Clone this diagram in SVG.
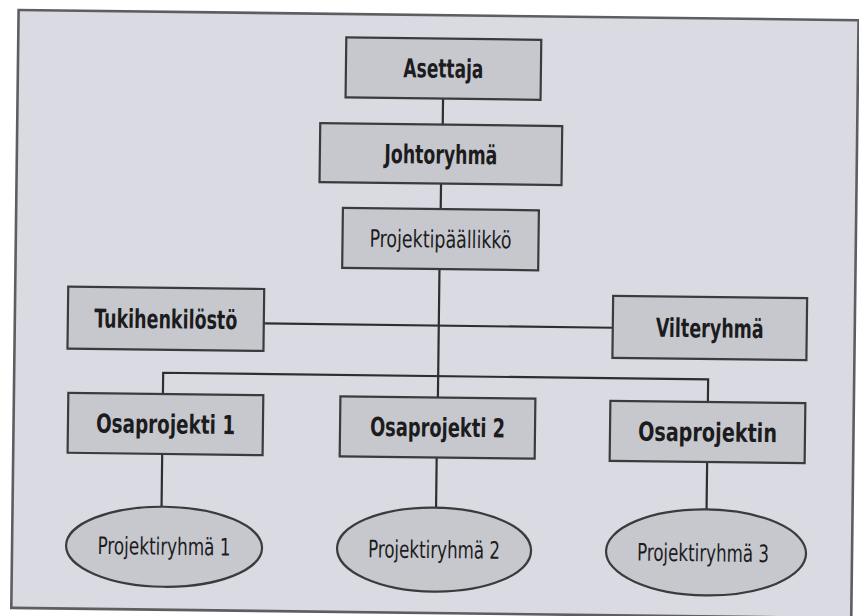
<svg xmlns="http://www.w3.org/2000/svg" width="859" height="616" viewBox="0 0 859 616">
  <style>
    .frame { fill: #dadbe2; stroke: #5e5e62; stroke-width: 2.6; }
    .box { fill: #c7c8cd; stroke: #3b3b3e; stroke-width: 2.2; }
    .oval { fill: #c7c8cd; stroke: #3b3b3e; stroke-width: 2.2; }
    .link { fill: none; stroke: #2e2e30; stroke-width: 2.2; }
    .lbl { font-family: "Liberation Sans Narrow", "DejaVu Sans Condensed", "Liberation Sans", sans-serif; font-stretch: condensed; fill: #1c1c1e; text-anchor: middle; }
    .b { font-weight: bold; font-size: 26px; }
    .r { font-weight: normal; font-size: 24px; }
  </style>
  <rect width="859" height="616" fill="#ffffff"/>
  <!-- the whole sheet sits at a slight clockwise tilt -->
  <g transform="rotate(0.7 430 308)">
    <rect class="frame" x="15" y="15" width="840" height="598"/>

    <g id="connectors">
      <line class="link" x1="440.5" y1="98.5" x2="440.5" y2="124.5"/>
      <line class="link" x1="439.5" y1="183.5" x2="439.5" y2="209"/>
      <line class="link" x1="439" y1="269" x2="439" y2="397.4"/>
      <line class="link" x1="264" y1="325.5" x2="613" y2="325.5"/>
      <polyline class="link" points="164,397.2 164,376 709,376 709,398.6"/>
      <line class="link" x1="164" y1="457.2" x2="164" y2="510"/>
      <line class="link" x1="438.5" y1="457.4" x2="438.5" y2="508"/>
      <line class="link" x1="709" y1="458.6" x2="709" y2="506"/>
    </g>

    <g id="asettaja">
      <rect class="box" x="343" y="38.5" width="195" height="60"/>
      <text class="lbl b" x="440.5" y="77.5" textLength="80" lengthAdjust="spacingAndGlyphs">Asettaja</text>
    </g>
    <g id="johtoryhma">
      <rect class="box" x="318" y="124.5" width="242" height="59"/>
      <text class="lbl b" x="439" y="163.5" textLength="113" lengthAdjust="spacingAndGlyphs">Johtoryhmä</text>
    </g>
    <g id="projektipaallikko">
      <rect class="box" x="341.7" y="209" width="196" height="60"/>
      <text class="lbl r" x="439.7" y="247.5" textLength="142" lengthAdjust="spacingAndGlyphs">Projektipäällikkö</text>
    </g>
    <g id="tukihenkilosto">
      <rect class="box" x="68" y="291" width="196" height="62"/>
      <text class="lbl b" x="166" y="331.5" textLength="143" lengthAdjust="spacingAndGlyphs">Tukihenkilöstö</text>
    </g>
    <g id="viiteryhma">
      <rect class="box" x="613" y="293.6" width="194" height="62"/>
      <text class="lbl b" x="710" y="334" textLength="108" lengthAdjust="spacingAndGlyphs">Vilteryhmä</text>
    </g>
    <g id="osaprojekti1">
      <rect class="box" x="69.4" y="397.2" width="195" height="60"/>
      <text class="lbl b" x="167" y="436.5" textLength="139" lengthAdjust="spacingAndGlyphs">Osaprojekti 1</text>
    </g>
    <g id="osaprojekti2">
      <rect class="box" x="341.5" y="397.4" width="195" height="60"/>
      <text class="lbl b" x="439" y="436.5" textLength="135" lengthAdjust="spacingAndGlyphs">Osaprojekti 2</text>
    </g>
    <g id="osaprojektin">
      <rect class="box" x="611.5" y="398.6" width="195" height="60"/>
      <text class="lbl b" x="709" y="438" textLength="139" lengthAdjust="spacingAndGlyphs">Osaprojektin</text>
    </g>
    <g id="projektiryhma1">
      <ellipse class="oval" cx="167" cy="550" rx="98" ry="40"/>
      <text class="lbl r" x="167" y="558" textLength="133" lengthAdjust="spacingAndGlyphs">Projektiryhmä 1</text>
    </g>
    <g id="projektiryhma2">
      <ellipse class="oval" cx="437" cy="549.5" rx="97" ry="42"/>
      <text class="lbl r" x="437" y="558" textLength="132" lengthAdjust="spacingAndGlyphs">Projektiryhmä 2</text>
    </g>
    <g id="projektiryhma3">
      <ellipse class="oval" cx="709" cy="549" rx="100" ry="43"/>
      <text class="lbl r" x="706" y="558" textLength="132" lengthAdjust="spacingAndGlyphs">Projektiryhmä 3</text>
    </g>
  </g>
</svg>
